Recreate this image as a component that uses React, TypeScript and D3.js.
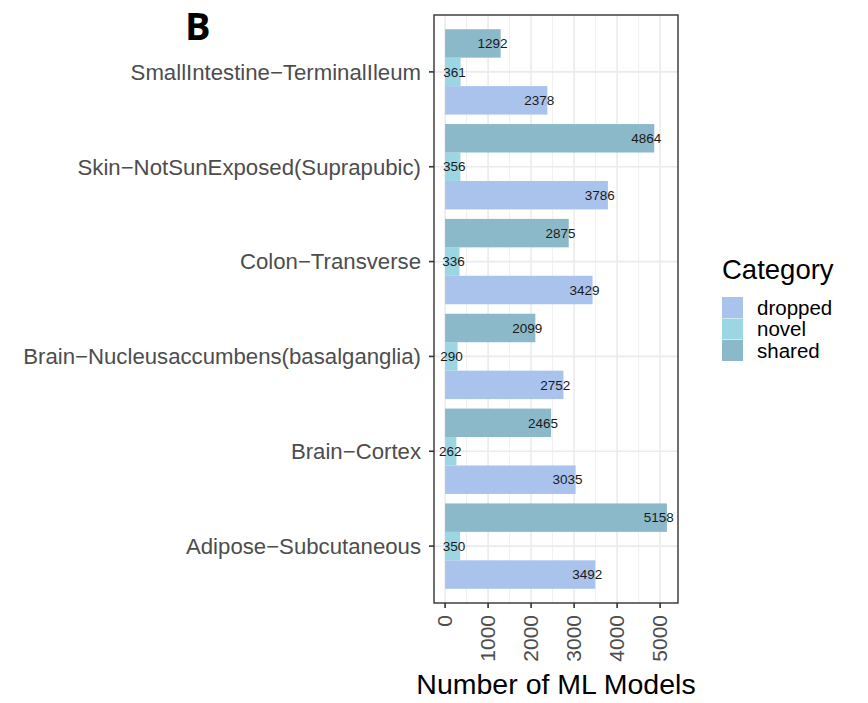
import React, { useEffect, useRef } from "react";
import * as d3 from "d3";

// tissues listed bottom to top, as in the figure
const tissues = [
	"Adipose−Subcutaneous",
	"Brain−Cortex",
	"Brain−Nucleusaccumbens(basalganglia)",
	"Colon−Transverse",
	"Skin−NotSunExposed(Suprapubic)",
	"SmallIntestine−TerminalIleum",
];
const categories = ["dropped", "novel", "shared"];
const dropped = [3492, 3035, 2752, 3429, 3786, 2378];
const novel = [350, 262, 290, 336, 356, 361];
const shared = [5158, 2465, 2099, 2875, 4864, 1292];
const xTicks = [0, 1000, 2000, 3000, 4000, 5000];
const colors: Record<string, string> = {
	dropped: "#a9c3ec",
	novel: "#9cd6e2",
	shared: "#8bb9c9",
};

export default function App() {
	const svgRef = useRef<SVGSVGElement>(null);

	useEffect(() => {
		if (!svgRef.current) return;
		const svg = d3.select(svgRef.current);
		svg.selectAll("*").remove();

		const panel = { left: 434, right: 678, top: 15, bottom: 603 };
		const maxVal = d3.max(shared.concat(dropped, novel)) as number;
		const pad = maxVal * 0.05;
		const x = d3
			.scaleLinear()
			.domain([-pad, maxVal + pad])
			.range([panel.left, panel.right]);
		// ggplot discrete axis: positions 1..n with 0.6 expansion
		const y = d3
			.scaleLinear()
			.domain([0.4, tissues.length + 0.6])
			.range([panel.bottom, panel.top]);

		const font = "'Liberation Sans', Arial, sans-serif";

		// minor grid
		const g = svg.append("g");
		d3.range(500, 5500, 1000).forEach((v) => {
			g.append("line")
				.attr("x1", x(v))
				.attr("x2", x(v))
				.attr("y1", panel.top)
				.attr("y2", panel.bottom)
				.attr("stroke", "#ebebeb")
				.attr("stroke-width", 0.8);
		});
		xTicks.forEach((v) => {
			g.append("line")
				.attr("x1", x(v))
				.attr("x2", x(v))
				.attr("y1", panel.top)
				.attr("y2", panel.bottom)
				.attr("stroke", "#ebebeb")
				.attr("stroke-width", 1.6);
		});
		tissues.forEach((_, i) => {
			g.append("line")
				.attr("x1", panel.left)
				.attr("x2", panel.right)
				.attr("y1", y(i + 1))
				.attr("y2", y(i + 1))
				.attr("stroke", "#ebebeb")
				.attr("stroke-width", 1.6);
		});

		// bars: dodge width 0.9, shared on top, dropped at bottom
		const series: Record<string, number[]> = { dropped, novel, shared };
		const bw = 0.3;
		tissues.forEach((t, i) => {
			categories.forEach((c, j) => {
				const v = series[c][i];
				const yc = i + 1 - 0.45 + bw * j;
				g.append("rect")
					.attr("x", x(0))
					.attr("width", x(v) - x(0))
					.attr("y", y(yc + bw))
					.attr("height", y(yc) - y(yc + bw))
					.attr("fill", colors[c]);
			});
		});
		tissues.forEach((t, i) => {
			categories.forEach((c, j) => {
				const v = series[c][i];
				const yc = i + 1 - 0.45 + bw * j + bw / 2;
				const w = String(v).length * 7.5;
				g.append("text")
					.attr("x", x(v) - 0.27 * w)
					.attr("y", y(yc))
					.attr("dy", "0.35em")
					.attr("text-anchor", "middle")
					.attr("font-family", font)
					.attr("font-size", 13.5)
					.attr("fill", "#1a1a1a")
					.text(v);
			});
		});

		// panel border
		svg.append("rect")
			.attr("x", panel.left)
			.attr("y", panel.top)
			.attr("width", panel.right - panel.left)
			.attr("height", panel.bottom - panel.top)
			.attr("fill", "none")
			.attr("stroke", "#333333")
			.attr("stroke-width", 1.4);

		// y axis
		tissues.forEach((t, i) => {
			svg.append("line")
				.attr("x1", panel.left - 5)
				.attr("x2", panel.left)
				.attr("y1", y(i + 1))
				.attr("y2", y(i + 1))
				.attr("stroke", "#333333")
				.attr("stroke-width", 1.6);
			svg.append("text")
				.attr("x", panel.left - 13)
				.attr("y", y(i + 1))
				.attr("dy", "0.35em")
				.attr("text-anchor", "end")
				.attr("font-family", font)
				.attr("font-size", 22.2)
				.attr("fill", "#4d4d4d")
				.text(t);
		});

		// x axis
		xTicks.forEach((v) => {
			svg.append("line")
				.attr("x1", x(v))
				.attr("x2", x(v))
				.attr("y1", panel.bottom)
				.attr("y2", panel.bottom + 5)
				.attr("stroke", "#333333")
				.attr("stroke-width", 1.6);
			svg.append("text")
				.attr("transform", `translate(${x(v)},${panel.bottom + 12}) rotate(-90)`)
				.attr("dy", "0.35em")
				.attr("text-anchor", "end")
				.attr("font-family", font)
				.attr("font-size", 21)
				.attr("fill", "#4d4d4d")
				.text(v);
		});

		svg.append("text")
			.attr("x", (panel.left + panel.right) / 2)
			.attr("y", 694)
			.attr("text-anchor", "middle")
			.attr("font-family", font)
			.attr("font-size", 28.5)
			.attr("fill", "#000")
			.text("Number of ML Models");

		// legend
		const lg = svg.append("g").attr("transform", "translate(722,0)");
		lg.append("text")
			.attr("x", 0)
			.attr("y", 279)
			.attr("font-family", font)
			.attr("font-size", 27.5)
			.attr("fill", "#000")
			.text("Category");
		categories.forEach((c, i) => {
			lg.append("rect")
				.attr("x", 0)
				.attr("y", 297 + i * 21.5)
				.attr("width", 21)
				.attr("height", 21)
				.attr("fill", colors[c]);
			lg.append("text")
				.attr("x", 35)
				.attr("y", 307.5 + i * 21.5)
				.attr("dy", "0.35em")
				.attr("font-family", font)
				.attr("font-size", 20.5)
				.attr("fill", "#000")
				.text(c);
		});

		svg.append("text")
			.attr("x", 185)
			.attr("y", 40)
			.attr("font-family", "'Open Sans', sans-serif")
			.attr("font-weight", "bold")
			.attr("font-size", 38)
			.attr("fill", "#000")
			.text("B");
	}, []);

	return (
		<div style={{ margin: -8 }}>
			<svg ref={svgRef} width={868} height={703} style={{ display: "block", background: "#fff" }} />
		</div>
	);
}
